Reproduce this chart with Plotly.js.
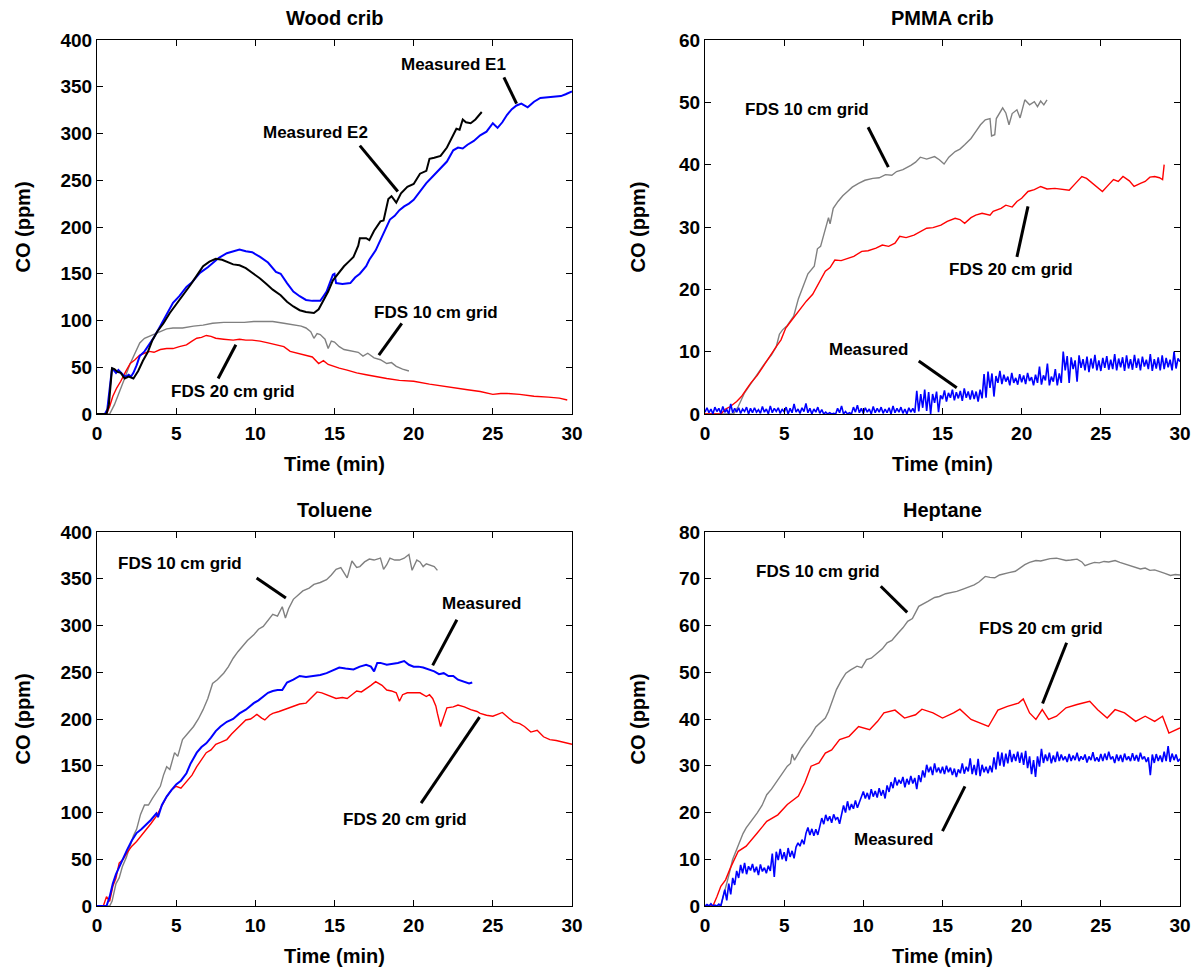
<!DOCTYPE html>
<html>
<head>
<meta charset="utf-8">
<script src="https://cdn.plot.ly/plotly-3.0.1.min.js"></script>
<style>html,body{margin:0;padding:0;background:#fff;}#chart{width:1201px;height:974px;}</style>
</head>
<body>
<div id="chart"></div>
<script>
// ---------- Wood crib ----------
const woodE1T = [0,0.5,0.65,0.8,0.95,1.05,1.2,1.35,1.5,1.7,1.85,2.0,2.15,2.3,2.5,2.7,3.0,3.3,3.6,4.0,4.4,4.8,5.2,5.65,6.0,6.5,7.0,7.3,7.7,8.2,8.6,9.0,9.4,9.8,10.3,10.8,11.3,11.6,12.0,12.4,12.8,13.2,13.6,14.1,14.3,14.5,14.7,14.9,15.0,15.1,15.5,16.0,16.3,16.6,17.0,17.2,17.6,17.9,18.2,18.5,18.8,19.1,19.4,19.7,20.0,20.4,20.8,21.2,21.7,22.1,22.5,22.8,23.1,23.4,23.8,24.2,24.6,25.0,25.3,25.6,25.9,26.2,26.5,26.8,27.2,27.6,28.0,28.5,29.0,29.3,29.6,30.0];
const woodE1 = [0,0,5,30,49,47,44,47,44,41,40,42,40,44,52,62,67,74,82,94,106,119,126,136,141,151,157,161,167,172,174,176,174,173,168,162,152,150,140,131,126,122,121,121,126,131,140,149,150,140,139,140,146,150,158,165,175,186,198,208,212,218,222,225,229,238,247,254,263,270,282,285,284,288,292,298,302,311,306,312,320,326,330,332,328,334,338,339,340,340,342,345];
const woodE2T = [0,0.6,0.75,0.85,0.95,1.1,1.3,1.5,1.75,2.0,2.3,2.6,2.9,3.2,3.5,3.8,4.2,4.6,5.0,5.4,5.9,6.3,6.7,7.1,7.5,7.9,8.3,8.6,9.0,9.4,9.8,10.3,10.7,11.1,11.6,12.0,12.4,12.8,13.2,13.7,14.0,14.3,14.6,14.9,15.2,15.6,15.9,16.2,16.5,16.6,17.0,17.2,17.5,17.9,18.1,18.4,18.6,18.9,19.2,19.6,20.0,20.4,20.8,21.0,21.3,21.7,22.1,22.5,22.7,22.9,23.1,23.3,23.6,23.9,24.1,24.3];
const woodE2 = [0,0,10,35,49,48,45,44,38,40,38,46,57,66,79,88,97,108,117,127,138,148,158,163,166,165,162,160,159,156,151,145,139,133,127,120,115,111,109,108,112,122,131,143,150,158,163,168,180,188,188,186,196,206,207,230,233,226,236,243,246,257,260,273,274,276,285,298,305,304,315,312,311,315,319,323];
const wood10T = [0,0.8,1.1,1.4,1.7,2.1,2.4,2.7,3.0,3.3,3.7,4.0,4.4,4.8,5.4,6.1,6.7,7.3,8.0,8.6,9.3,9.9,10.5,11.1,11.8,12.4,12.9,13.2,13.5,13.7,13.9,14.1,14.4,14.6,14.8,15.0,15.3,15.6,15.9,16.2,16.5,16.8,17.1,17.5,17.9,18.3,18.6,18.9,19.3,19.7];
const wood10 = [0,0,10,22,36,54,66,76,81,83,86,88,91,92,92,94,95,97,98,98,98,99,99,99,97,95,94,92,88,81,86,85,80,70,78,77,72,69,68,67,66,62,65,60,58,54,55,51,48,46];
const wood20T = [0,0.6,0.8,1.0,1.25,1.5,1.8,2.1,2.4,2.7,3.0,3.3,3.6,4.0,4.4,4.8,5.2,5.65,6.0,6.3,6.6,6.9,7.2,7.5,8.0,8.6,9.0,9.4,9.8,10.3,10.8,11.3,11.8,12.2,12.7,13.2,13.6,14.0,14.3,14.6,14.9,15.3,15.8,16.4,17.0,17.6,18.3,19.1,20.0,21.0,21.9,22.6,23.4,24.2,25.0,25.5,25.9,26.7,27.6,28.5,29.2,29.7];
const wood20 = [0,0,8,19,28,35,45,54,58,63,65,67,66,69,70,70,72,74,78,81,82,84,83,81,80,79,80,79,79,78,76,74,72,67,65,63,61,54,57,53,51,49,47,44,42,40,38,36,35,32,30,28,26,24,21,22,22,21,19,18,17,15];

// ---------- PMMA crib ----------
const pmma10T = [0,1.8,2.1,2.5,2.8,3.2,3.5,3.8,4.2,4.5,4.7,4.9,5.2,5.6,5.9,6.2,6.5,6.9,7.1,7.3,7.6,7.8,7.9,8.1,8.4,8.7,9.0,9.3,9.7,10.1,10.6,11.0,11.4,11.8,12.1,12.5,13.0,13.3,13.6,14.0,14.5,14.8,15.1,15.4,15.8,16.1,16.4,16.8,17.1,17.4,17.7,18.0,18.1,18.3,18.4,18.6,18.8,19.0,19.2,19.4,19.7,19.9,20.2,20.5,20.8,21.0,21.2,21.4,21.6];
const pmma10 = [0,0,1.2,3.4,4.5,6,7.2,8.2,9.5,10.8,12.8,13.5,14.2,15.7,18.5,20.5,22.5,23.7,26.5,26.9,29.5,31.5,30.5,33,34.1,35,35.7,36.4,37,37.5,37.8,37.9,38.4,38.3,38.9,39.2,39.9,40.4,41.2,40.9,41.3,40.8,40.1,41.2,42.1,42.5,43.2,44.2,45.3,46.4,47.2,47.4,44.6,44.8,47.4,48.2,49.1,48.3,46.4,48.2,48.8,47.5,50.4,49.6,50.1,49.3,50.2,49.6,50.4];
const pmma20T = [0,1.0,1.3,1.6,2.0,2.3,2.6,2.9,3.3,3.6,3.9,4.2,4.5,4.8,5.1,5.4,5.8,6.1,6.4,6.8,7.1,7.4,7.6,7.9,8.2,8.6,9.0,9.4,9.9,10.3,10.8,11.2,11.6,12.0,12.3,12.7,13.2,13.6,14.0,14.4,14.9,15.3,15.8,16.1,16.4,16.8,17.1,17.5,18.0,18.2,18.4,18.7,19.0,19.4,19.7,20.0,20.4,20.8,21.2,21.6,22.1,22.6,23.0,23.4,23.8,24.1,24.5,24.8,25.1,25.5,25.8,26.1,26.4,26.8,27.1,27.5,27.8,28.1,28.4,28.7,28.9,29.0];
const pmma20 = [0,0,0.8,1.2,2.0,2.8,3.9,5,6.2,7.4,8.6,9.8,10.8,11.9,13.8,14.8,16.2,17.2,18.1,19.2,20.5,21.8,22.9,23.5,24.7,24.6,25,25.3,26.1,26.2,26.6,27.1,26.9,27.4,28.5,28.3,28.7,29.2,29.8,29.9,30.3,30.9,31.4,31.2,30.6,31.5,31.9,32.2,31.9,32.5,32.7,33.0,33.5,33.2,34.1,34.6,35.7,36.0,36.5,36.1,36.2,36.0,35.9,37.0,38.1,37.8,37.0,36.4,35.7,36.8,37.6,37.3,38.1,37.4,36.5,37.0,37.3,38.0,38.1,37.9,37.6,40.0];

// shared time base (min) of the measured PMMA and heptane records
const measT = [
0,0.125,0.25,0.375,0.5,0.625,0.75,0.875,
1,1.125,1.25,1.375,1.5,1.625,1.75,1.875,
2,2.125,2.25,2.375,2.5,2.625,2.75,2.875,
3,3.125,3.25,3.375,3.5,3.625,3.75,3.875,
4,4.125,4.25,4.375,4.5,4.625,4.75,4.875,
5,5.125,5.25,5.375,5.5,5.625,5.75,5.875,
6,6.125,6.25,6.375,6.5,6.625,6.75,6.875,
7,7.125,7.25,7.375,7.5,7.625,7.75,7.875,
8,8.125,8.25,8.375,8.5,8.625,8.75,8.875,
9,9.125,9.25,9.375,9.5,9.625,9.75,9.875,
10,10.125,10.25,10.375,10.5,10.625,10.75,10.875,
11,11.125,11.25,11.375,11.5,11.625,11.75,11.875,
12,12.125,12.25,12.375,12.5,12.625,12.75,12.875,
13,13.125,13.25,13.375,13.5,13.625,13.75,13.875,
14,14.125,14.25,14.375,14.5,14.625,14.75,14.875,
15,15.125,15.25,15.375,15.5,15.625,15.75,15.875,
16,16.125,16.25,16.375,16.5,16.625,16.75,16.875,
17,17.125,17.25,17.375,17.5,17.625,17.75,17.875,
18,18.125,18.25,18.375,18.5,18.625,18.75,18.875,
19,19.125,19.25,19.375,19.5,19.625,19.75,19.875,
20,20.125,20.25,20.375,20.5,20.625,20.75,20.875,
21,21.125,21.25,21.375,21.5,21.625,21.75,21.875,
22,22.125,22.25,22.375,22.5,22.625,22.75,22.875,
23,23.125,23.25,23.375,23.5,23.625,23.75,23.875,
24,24.125,24.25,24.375,24.5,24.625,24.75,24.875,
25,25.125,25.25,25.375,25.5,25.625,25.75,25.875,
26,26.125,26.25,26.375,26.5,26.625,26.75,26.875,
27,27.125,27.25,27.375,27.5,27.625,27.75,27.875,
28,28.125,28.25,28.375,28.5,28.625,28.75,28.875,
29,29.125,29.25,29.375,29.5,29.625,29.75,29.875,
30];
const pmmaMeas = [
0.3,1.0,0.2,0.8,0.0,1.1,0.4,0.9,
0.1,1.2,0.3,0.7,0.0,1.6,0.2,0.9,
0.3,1.0,0.1,0.8,0.4,1.1,0.0,0.9,
0.2,1.0,0.3,0.7,0.1,1.2,0.3,0.8,
0.0,1.3,0.2,0.9,0.4,1.0,0.1,0.8,
0.3,1.1,0.0,0.9,0.2,1.6,0.3,0.8,
0.1,1.0,0.4,1.7,0.2,0.9,0.0,0.8,
0.3,1.1,0.1,0.7,0.0,0.3,0.0,0.2,
0.0,0.1,0.0,0.9,0.2,1.3,0.0,0.4,
0.0,0.2,0.0,1.1,0.3,1.4,0.2,0.9,
0.1,1.0,0.3,0.8,0.0,1.2,0.2,0.9,
0.3,1.1,0.1,0.8,0.2,1.0,0.0,1.3,
0.2,0.9,0.3,1.1,0.1,0.8,0.0,1.0,
0.3,0.9,0.2,3.7,0.4,3.2,1.0,3.9,
0.5,3.5,0.0,3.2,1.8,3.6,0.3,3.0,
2.4,3.8,2.0,3.4,2.6,3.9,2.2,3.5,
2.5,3.7,2.1,4.1,2.6,3.6,2.3,3.8,
2.4,3.6,2.0,3.9,2.5,6.4,2.6,6.8,
4.2,6.5,2.8,6.1,5.0,6.9,4.8,6.3,
5.2,6.0,4.6,6.6,5.0,5.8,4.7,6.4,
5.1,6.2,4.8,6.6,5.3,5.9,4.6,6.3,
5.0,7.6,4.7,6.2,5.4,8.1,4.6,6.0,
5.2,7.2,4.6,6.5,5.0,10.0,7.0,9.3,
5.0,9.1,7.2,8.6,5.2,9.4,7.4,8.8,
7.0,9.2,6.7,8.9,7.3,9.5,7.0,8.6,
6.9,9.0,7.4,9.3,7.1,8.7,7.2,9.6,
7.0,8.9,7.5,9.1,6.9,9.4,7.3,8.8,
7.1,9.5,7.4,8.9,7.0,9.2,7.6,8.7,
7.2,9.6,6.9,8.8,7.3,9.1,7.0,9.4,
7.2,9.0,7.5,8.7,7.0,10.0,7.3,8.9,
8.4];

// ---------- Toluene ----------
const tol10T = [0,0.8,0.95,1.2,1.4,1.6,1.85,2.1,2.3,2.5,2.75,3.0,3.25,3.5,3.75,4.0,4.2,4.4,4.6,4.9,5.1,5.4,5.7,6.1,6.4,6.7,7.0,7.3,7.6,8.0,8.3,8.6,8.9,9.2,9.5,9.9,10.2,10.5,10.8,11.1,11.4,11.7,11.9,12.1,12.4,12.7,13.0,13.4,13.7,14.1,14.5,14.8,15.1,15.4,15.8,16.1,16.4,16.6,16.9,17.2,17.5,17.9,18.1,18.3,18.5,18.8,19.1,19.4,19.7,19.9,20.2,20.4,20.6,20.8,21.0,21.3,21.5];
const tol10 = [0,0,5,24,30,42,52,64,75,82,98,108,108,115,122,128,140,149,146,164,160,178,184,192,200,210,222,238,242,249,256,265,272,278,284,290,296,299,305,312,310,320,308,318,328,332,337,340,344,346,349,354,360,362,351,369,362,363,368,371,370,372,360,365,372,370,370,372,376,359,370,368,363,366,365,363,359];
const tolMeasT = [0,0.6,0.8,1.0,1.2,1.4,1.65,1.9,2.2,2.5,2.8,3.1,3.4,3.75,3.85,4.1,4.4,4.7,5.0,5.3,5.65,5.9,6.3,6.6,6.9,7.2,7.5,7.8,8.2,8.6,9.0,9.4,9.9,10.2,10.5,10.8,11.1,11.4,11.7,12.0,12.4,12.8,13.2,13.7,14.1,14.5,14.9,15.3,15.7,16.2,16.6,17.0,17.3,17.5,17.7,17.9,18.3,18.7,19.0,19.4,19.7,20.0,20.3,20.6,20.9,21.3,21.6,21.9,22.2,22.5,22.8,23.2,23.5,23.7];
const tolMeas = [0,0,10,24,34,42,52,60,70,78,82,87,92,99,95,108,117,124,130,134,142,152,164,170,174,180,187,192,197,200,206,210,217,220,224,228,230,231,231,239,242,246,245,246,247,249,252,255,254,253,256,258,256,251,260,260,258,259,260,262,258,256,256,255,253,251,248,249,246,246,242,240,238,239];
const tol20T = [0,0.4,0.6,0.8,1.0,1.2,1.4,1.65,1.9,2.2,2.5,2.8,3.1,3.4,3.75,4.1,4.4,4.7,5.0,5.3,5.65,6.0,6.3,6.6,6.9,7.2,7.5,7.8,8.2,8.5,8.8,9.1,9.4,9.7,10.1,10.4,10.6,10.9,11.1,11.5,11.8,12.1,12.4,12.8,13.2,13.5,13.9,14.2,14.5,14.8,15.1,15.5,15.8,16.1,16.4,16.7,17.0,17.3,17.6,18.0,18.3,18.6,18.9,19.1,19.3,19.6,20.0,20.4,20.8,21.0,21.2,21.4,21.5,21.6,21.7,21.9,22.1,22.5,22.8,23.2,23.6,24.0,24.2,24.6,25.0,25.3,25.6,26.0,26.3,26.7,27.0,27.4,27.8,28.2,28.6,29.0,29.3,29.7,30.0];
const tol20 = [0,0,10,5,21,30,46,50,57,64,69,75,82,88,96,108,117,124,128,126,133,140,149,157,164,167,173,175,178,184,189,193,199,200,205,201,199,204,206,208,210,212,214,216,217,222,229,228,226,224,222,223,222,226,230,229,233,236,240,236,231,230,228,219,226,228,228,228,224,226,222,214,206,200,192,202,212,213,215,213,210,208,206,204,203,205,207,201,197,195,192,186,188,181,178,177,176,174,173];

// ---------- Heptane ----------
const hep10T = [0,1.0,1.15,1.3,1.5,1.74,2.0,2.2,2.4,2.6,2.9,3.3,3.6,3.9,4.2,4.6,4.9,5.2,5.4,5.5,5.65,6.1,6.4,6.7,7.0,7.4,7.6,7.8,8.0,8.3,8.6,8.9,9.2,9.6,9.9,10.2,10.5,10.9,11.2,11.5,11.8,12.2,12.5,12.8,13.1,13.5,13.8,14.1,14.5,14.8,15.2,15.5,15.9,16.3,16.6,17.0,17.3,17.7,18.0,18.3,18.6,18.9,19.2,19.6,19.9,20.2,20.5,20.9,21.2,21.5,21.8,22.2,22.5,22.8,23.1,23.5,23.8,24.0,24.3,24.6,24.9,25.2,25.5,25.9,26.2,26.5,26.9,27.2,27.5,27.8,28.1,28.4,28.7,29.0,29.4,29.7,30.0];
const hep10 = [0,0,2,4.2,6.5,9.9,12,13.5,15.5,16.7,18,19.9,21.5,23.8,25,27,28.5,29.9,30.5,32.5,31.2,33.8,35.2,36.6,38.3,39.5,40.2,41.6,43.5,46.3,48.2,49.8,50.5,51.3,51.0,52.7,53.0,54.1,55.0,56.3,56.8,58.4,59.5,60.9,61.5,64.1,64.6,65.2,66.0,66.2,66.8,67.0,67.3,67.8,68.2,68.7,69.3,70.5,70.3,70.2,70.8,71.1,71.3,71.6,72.3,73.0,73.5,73.9,73.8,74.1,74.3,74.4,74.1,73.9,74.0,74.2,73.6,72.8,73.2,73.5,73.4,73.7,73.6,73.9,73.5,73.2,72.8,72.4,72.1,72.3,71.8,71.9,71.6,71.2,70.7,70.9,70.8];
const hep20T = [0,0.5,0.75,1.0,1.3,1.6,2.1,2.6,3.3,3.9,4.6,5.2,5.9,6.3,6.7,7.2,7.6,8.0,8.5,9.1,9.7,10.4,10.9,11.3,12.0,12.6,13.3,13.7,14.4,15.0,15.7,16.1,16.8,17.4,17.9,18.5,19.1,19.8,20.1,20.5,20.9,21.3,21.7,22.2,22.8,23.5,24.3,24.8,25.4,25.9,26.5,27.2,27.8,28.4,28.9,29.3,29.6,30.0];
const hep20 = [0,0,2,4.2,5.6,8.1,11.7,12.8,15.6,18.1,19.5,21.7,23.5,26.3,29.9,30.6,32.7,33.4,35.6,36.3,38.4,37.7,39.5,41.3,41.9,40.2,40.9,42.1,41.3,40.2,41.3,42.1,39.9,39.1,38.4,41.9,42.7,43.4,44.3,41.3,39.9,42.0,39.9,40.6,42.4,43.1,43.8,42.0,40.2,42.0,41.3,39.5,40.6,39.5,40.6,37.0,37.4,38.1];
const hepMeas = [
0,0.3,0,0.5,0,0.2,0,0.4,
0,1.8,3.5,1.2,4.8,2.5,6.0,4.5,
7.5,6.0,8.8,7.0,9.2,6.8,8.5,7.6,
9.0,7.2,8.4,6.6,8.9,7.4,8.2,7.0,
8.6,7.5,11.2,6.2,11.6,9.8,12.2,10.0,
11.5,9.6,12.4,10.5,11.8,10.2,12.6,13.5,
12.8,14.2,13.2,15.5,16.8,15.2,16.5,15.0,
16.4,15.2,16.8,18.8,17.5,19.5,18.2,19.2,
17.8,19.6,18.5,19.0,17.6,19.8,21.5,20.0,
22.4,20.5,21.8,20.8,22.6,21.0,22.2,23.0,
24.5,23.0,24.2,22.8,25.0,23.4,24.6,23.2,
25.2,23.6,24.8,23.0,25.8,24.4,26.5,25.2,
27.5,25.8,27.0,26.2,27.6,25.4,27.2,26.0,
27.8,26.2,27.4,25.0,28.0,26.5,29.0,27.5,
30.2,28.6,29.8,28.0,30.5,28.6,29.6,28.4,
29.8,28.2,30.0,28.6,29.6,28.0,29.4,27.6,
29.2,28.4,30.5,28.3,29.8,28.8,31.6,28.2,
30.2,28.0,31.5,27.8,30.2,28.6,29.8,28.4,
30.0,28.6,31.8,29.2,33.0,30.0,32.8,29.8,
32.6,30.5,33.4,30.8,32.5,31.0,33.0,30.6,
32.8,30.2,33.2,29.5,32.0,28.2,31.2,27.6,
32.0,29.8,33.6,30.6,32.4,31.0,32.8,30.5,
32.2,30.8,33.0,31.0,32.4,31.2,32.0,30.8,
32.5,31.0,32.2,31.2,32.8,31.0,32.0,31.3,
32.4,30.7,32.0,31.2,32.9,31.0,31.8,30.9,
32.5,31.0,32.6,31.2,33.0,31.4,32.0,30.6,
32.4,31.0,32.3,30.8,32.6,31.2,32.0,31.0,
32.7,31.1,32.3,30.9,32.8,31.4,32.0,30.8,
31.8,28.0,32.4,30.6,32.5,31.0,32.2,30.8,
33.0,31.0,34.2,30.8,32.6,31.2,32.4,30.9,
31.5];

// ---------- Labels ----------
const panelTitles = ["Wood crib", "PMMA crib", "Toluene", "Heptane"];
const xLabel = "Time (min)";
const yLabel = "CO (ppm)";
const yRanges = [[0,400],[0,60],[0,400],[0,80]];
const yDticks = [50,10,50,10];

const BLUE = "#0000ff", RED = "#ff0000", GRAY = "#808080", BLACK = "#000000";
function tr(x, y, color, w, ax) {
  return {x: x, y: y, type: "scatter", mode: "lines", line: {color: color, width: w}, xaxis: "x" + ax, yaxis: "y" + ax, hoverinfo: "skip", showlegend: false};
}
const data = [
  tr(wood10T, wood10, GRAY, 1.4, ""),
  tr(wood20T, wood20, RED, 1.4, ""),
  tr(woodE1T, woodE1, BLUE, 2, ""),
  tr(woodE2T, woodE2, BLACK, 2, ""),
  tr(pmma10T, pmma10, GRAY, 1.4, "2"),
  tr(pmma20T, pmma20, RED, 1.4, "2"),
  tr(measT, pmmaMeas, BLUE, 1.6, "2"),
  tr(tol10T, tol10, GRAY, 1.4, "3"),
  tr(tol20T, tol20, RED, 1.4, "3"),
  tr(tolMeasT, tolMeas, BLUE, 2, "3"),
  tr(hep10T, hep10, GRAY, 1.4, "4"),
  tr(hep20T, hep20, RED, 1.4, "4"),
  tr(measT, hepMeas, BLUE, 1.6, "4")
];

const FONT = "Liberation Sans, Arial, Helvetica, sans-serif";
const xDom = [[97/1201, 572/1201], [705/1201, 1180/1201]];
const yDom = [[(974-414)/974, (974-40)/974], [(974-906)/974, (974-532)/974]];
const yTitleStandoff = [24, 28, 24, 28];

function xa(i, anchor) {
  return {
    domain: xDom[i % 2], anchor: anchor, range: [0, 30], dtick: 5, tick0: 0,
    showline: true, mirror: "ticks", linecolor: "#000", linewidth: 1,
    ticks: "inside", ticklen: 6, tickcolor: "#000", showgrid: false, zeroline: false,
    tickfont: {family: FONT, size: 19, color: "#000", weight: "bold"},
    ticklabelstandoff: 2,
    title: {text: xLabel, font: {family: FONT, size: 20, color: "#000", weight: "bold"}, standoff: 14},
    fixedrange: true
  };
}
function ya(i, anchor) {
  return {
    domain: yDom[Math.floor(i / 2)], anchor: anchor, range: yRanges[i], dtick: yDticks[i], tick0: 0,
    showline: true, mirror: "ticks", linecolor: "#000", linewidth: 1,
    ticks: "inside", ticklen: 6, tickcolor: "#000", showgrid: false, zeroline: false,
    tickfont: {family: FONT, size: 19, color: "#000", weight: "bold"},
    ticklabelstandoff: 0,
    title: {text: yLabel, font: {family: FONT, size: 20, color: "#000", weight: "bold"}, standoff: yTitleStandoff[i]},
    fixedrange: true
  };
}

// annotation text labels: [axisSuffix, x, y, text]
const labelSpecs = [
  ["", 22.5, 374, "Measured E1"],
  ["", 13.8, 301, "Measured E2"],
  ["", 21.4, 109, "FDS 10 cm grid"],
  ["", 8.6, 24, "FDS 20 cm grid"],
  ["2", 6.42, 48.9, "FDS 10 cm grid"],
  ["2", 19.3, 23.2, "FDS 20 cm grid"],
  ["2", 10.34, 10.4, "Measured"],
  ["3", 5.23, 366.8, "FDS 10 cm grid"],
  ["3", 24.3, 324, "Measured"],
  ["3", 19.46, 92.3, "FDS 20 cm grid"],
  ["4", 7.13, 71.5, "FDS 10 cm grid"],
  ["4", 21.25, 59.3, "FDS 20 cm grid"],
  ["4", 11.92, 14.2, "Measured"]
];
// leader lines: [axisSuffix, x0, y0, x1, y1]
const leaderSpecs = [
  ["", 25.7, 360, 26.5, 332],
  ["", 16.6, 287, 19.0, 238],
  ["", 19.25, 97, 17.8, 63],
  ["", 8.77, 74, 7.65, 38],
  ["2", 10.3, 46.0, 11.58, 39.6],
  ["2", 20.4, 33.3, 19.7, 25.2],
  ["2", 13.5, 8.5, 15.9, 4.2],
  ["3", 10.08, 350.8, 11.93, 329.4],
  ["3", 22.73, 306.2, 21.2, 257.4],
  ["3", 24.16, 202, 20.47, 110],
  ["4", 11.1, 68.4, 12.77, 62.8],
  ["4", 22.84, 56.3, 21.32, 43.3],
  ["4", 15.0, 16.0, 16.42, 25.6]
];

const annotations = labelSpecs.map(s => ({
  xref: "x" + s[0], yref: "y" + s[0], x: s[1], y: s[2], text: s[3], showarrow: false,
  xanchor: "center", yanchor: "middle",
  font: {family: FONT, size: 17, color: "#000", weight: "bold"}
}));
const titlePos = [[334.5/1201, (974-18)/974], [942.5/1201, (974-18)/974], [334.5/1201, (974-510)/974], [942.5/1201, (974-510)/974]];
panelTitles.forEach((t, i) => annotations.push({
  xref: "paper", yref: "paper", x: titlePos[i][0], y: titlePos[i][1], text: t, showarrow: false,
  xanchor: "center", yanchor: "middle",
  font: {family: FONT, size: 20, color: "#000", weight: "bold"}
}));

const shapes = leaderSpecs.map(s => ({
  type: "line", xref: "x" + s[0], yref: "y" + s[0], x0: s[1], y0: s[2], x1: s[3], y1: s[4],
  line: {color: "#000", width: 3}
}));

const layout = {
  width: 1201, height: 974,
  margin: {l: 0, r: 0, t: 0, b: 0},
  paper_bgcolor: "#fff", plot_bgcolor: "#fff",
  font: {family: FONT, color: "#000"},
  showlegend: false,
  xaxis: xa(0, "y"), yaxis: ya(0, "x"),
  xaxis2: xa(1, "y2"), yaxis2: ya(1, "x2"),
  xaxis3: xa(2, "y3"), yaxis3: ya(2, "x3"),
  xaxis4: xa(3, "y4"), yaxis4: ya(3, "x4"),
  annotations: annotations,
  shapes: shapes
};

Plotly.newPlot("chart", data, layout, {staticPlot: true, displayModeBar: false});
</script>
</body>
</html>
